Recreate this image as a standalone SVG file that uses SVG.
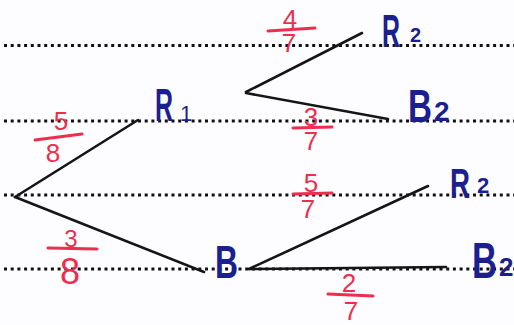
<svg xmlns="http://www.w3.org/2000/svg" width="514" height="325" viewBox="0 0 514 325">
<style>
.dot{stroke:#111;stroke-width:3;stroke-dasharray:3 3.7;fill:none}
.edge{stroke:#151515;stroke-width:2.6;fill:none;stroke-linecap:round}
.lbl{fill:#1c1f8f;font-family:"Liberation Sans",Arial,sans-serif;font-weight:bold}
.fr{fill:#ef2d4f;font-family:"Liberation Sans",Arial,sans-serif;font-size:26px;text-anchor:middle}
.bar{stroke:#ef2d4f;stroke-width:3;stroke-linecap:round}
</style>
<rect width="514" height="325" fill="#fdfdff"/>
<g id="ruled-lines">
<line class="dot" x1="4" y1="45.5" x2="514" y2="45.5"/>
<line class="dot" x1="4" y1="121" x2="514" y2="121"/>
<line class="dot" x1="4" y1="195" x2="514" y2="195"/>
<line class="dot" x1="4" y1="269" x2="514" y2="269"/>
</g>
<g id="connectors">
<line class="edge" x1="15" y1="197" x2="138" y2="120"/>
<line class="edge" x1="15" y1="197" x2="204" y2="272"/>
<line class="edge" x1="246" y1="92" x2="362" y2="33"/>
<line class="edge" x1="246" y1="93" x2="388" y2="119"/>
<line class="edge" x1="249" y1="269" x2="428" y2="186"/>
<line class="edge" x1="249" y1="269" x2="446" y2="267"/>
</g>
<g id="prob-labels">
<g id="p-5-8"><text class="fr" x="61" y="130">5</text><line class="bar" x1="35" y1="140" x2="82" y2="134"/><text class="fr" x="53" y="162">8</text></g>
<g id="p-3-8"><text class="fr" x="71" y="247" style="font-size:24px">3</text><line class="bar" x1="48" y1="248" x2="97" y2="249"/><text class="fr" x="70" y="284" style="font-size:36px">8</text></g>
<g id="p-4-7"><text class="fr" x="290" y="28">4</text><line class="bar" x1="268" y1="31" x2="315" y2="28"/><text class="fr" x="289" y="52">7</text></g>
<g id="p-3-7"><text class="fr" x="311" y="126">3</text><line class="bar" x1="293" y1="128" x2="332" y2="127"/><text class="fr" x="311" y="150">7</text></g>
<g id="p-5-7"><text class="fr" x="311" y="192">5</text><line class="bar" x1="293" y1="194" x2="332" y2="193"/><text class="fr" x="308" y="218">7</text></g>
<g id="p-2-7"><text class="fr" x="349" y="292">2</text><line class="bar" x1="328" y1="294" x2="373" y2="296"/><text class="fr" x="351" y="320">7</text></g>
</g>
<g id="node-R1"><text class="lbl" x="155" y="121" font-size="46"><tspan textLength="18" lengthAdjust="spacingAndGlyphs">R</tspan><tspan x="180" y="121" font-size="22" font-weight="normal">1</tspan></text></g>
<g id="node-B"><text class="lbl" x="215" y="278" font-size="46" textLength="23" lengthAdjust="spacingAndGlyphs">B</text></g>
<g id="node-R2-top"><text class="lbl" x="382" y="47" font-size="46"><tspan textLength="18" lengthAdjust="spacingAndGlyphs">R</tspan><tspan x="410" y="42" font-size="20">2</tspan></text></g>
<g id="node-B2-top"><text class="lbl" x="408" y="122" font-size="46"><tspan textLength="24" lengthAdjust="spacingAndGlyphs">B</tspan><tspan x="434" y="121" font-size="28">2</tspan></text></g>
<g id="node-R2-bottom"><text class="lbl" x="450" y="198" font-size="42"><tspan textLength="20" lengthAdjust="spacingAndGlyphs">R</tspan><tspan x="477" y="193" font-size="22">2</tspan></text></g>
<g id="node-B2-bottom"><text class="lbl" x="472" y="278" font-size="50"><tspan textLength="25" lengthAdjust="spacingAndGlyphs">B</tspan><tspan x="499" y="276" font-size="26">2</tspan></text></g>
</svg>
